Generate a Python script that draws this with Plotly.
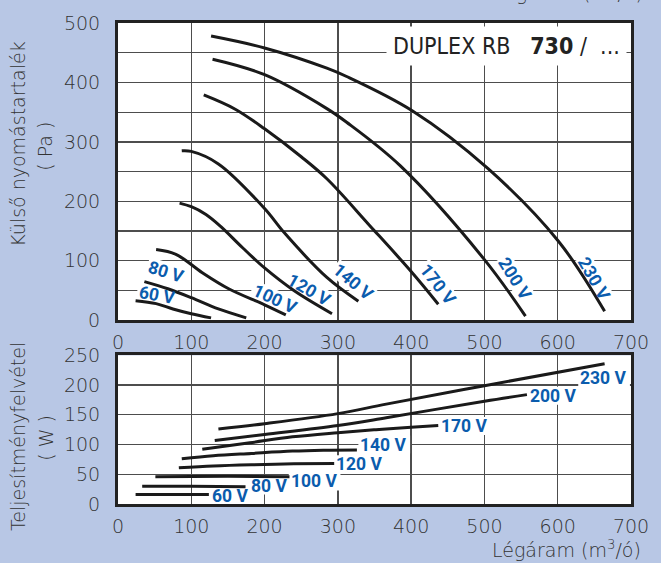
import math
import plotly.graph_objects as go

# ---------------- data ----------------
voltages = ["60 V", "80 V", "100 V", "120 V", "140 V", "170 V", "200 V", "230 V"]

# external static pressure curves (top chart): airflow m3/h -> Pa
p_flow = {
    "60 V":  [24, 52, 75, 100, 127],
    "80 V":  [36, 68, 100, 137, 175],
    "100 V": [52, 79, 115, 151, 200, 229],
    "120 V": [84, 100, 120, 140, 170, 200, 240, 292],
    "140 V": [87, 100, 137, 200, 227, 285, 328],
    "170 V": [117, 160, 200, 250, 285, 343, 400, 437],
    "200 V": [129, 200, 285, 312, 385, 500, 556],
    "230 V": [127, 200, 285, 312, 402, 505, 601, 664],
}
p_pres = {
    "60 V":  [33, 28, 19, 11, 4],
    "80 V":  [65, 53, 38, 19, 4],
    "100 V": [119, 111, 80, 53, 26, 9],
    "120 V": [197, 191, 178, 158, 122, 88, 50, 11],
    "140 V": [285, 284, 263, 188, 147, 72, 32],
    "170 V": [379, 355, 322, 275, 238, 160, 82, 27],
    "200 V": [439, 413, 356, 333, 260, 102, 7],
    "230 V": [478, 458, 424, 410, 352, 255, 133, 15],
}

# power consumption curves (bottom chart): airflow m3/h -> W
w_flow = {
    "60 V":  [24, 80, 124],
    "80 V":  [33, 100, 174],
    "100 V": [51, 150, 234],
    "120 V": [83, 130, 182, 240, 295],
    "140 V": [87, 130, 182, 238, 280, 326],
    "170 V": [115, 180, 238, 300, 352, 400, 437],
    "200 V": [132, 200, 300, 366, 500, 558],
    "230 V": [137, 200, 300, 366, 500, 664],
}
w_pow = {
    "60 V":  [16, 16, 16],
    "80 V":  [30, 30, 29],
    "100 V": [46, 46.5, 46],
    "120 V": [61, 64, 66, 67.5, 68],
    "140 V": [76, 81, 85, 89, 90.5, 91],
    "170 V": [92, 103, 113, 120, 125, 129, 132],
    "200 V": [107, 117, 132, 145, 173, 184],
    "230 V": [126, 135, 152, 168, 199, 236],
}

# label placement (data coords) and rotation for the top chart
p_lab_x = [53, 66, 214, 261, 321, 436, 542, 650]
p_lab_y = [43, 82, 36, 51, 64, 61, 70, 70]
p_lab_ang = [10, 17, 25, 30, 40, 52, 58, 60]

# label placement for bottom chart (left edge of label)
w_lab_x = [125, 179, 233, 295, 328, 438, 560, 628]
w_lab_y = [13, 31, 38, 67, 100, 131, 182, 212]

x_ticks = [0, 100, 200, 300, 400, 500, 600, 700]
p_ticks = [0, 100, 200, 300, 400, 500]
w_ticks = [0, 50, 100, 150, 200, 250]

# ---------------- style ----------------
BG = "#b8c7e5"
LINE = "#1a1a1a"
GRID = "#4d4d4d"
LBL = "#0b5cad"
TXT = "#333333"
TICKFONT = dict(family="DejaVu Sans", size=19, color=TXT, weight=300)
LBLFONT = dict(family="Roboto", size=17.5, color=LBL, weight="bold")


def label_width(t):
    digits = sum(ch.isdigit() for ch in t)
    return 9.9 * digits + 16 + 4


def rot_box_path(w, h, ang_deg):
    """white halo behind a rotated label, in pixels around the anchor"""
    a = math.radians(ang_deg)
    pts = []
    for cx, cy in [(-w / 2, -h / 2), (w / 2, -h / 2), (w / 2, h / 2), (-w / 2, h / 2)]:
        xs = cx * math.cos(a) - cy * math.sin(a)
        ys = cx * math.sin(a) + cy * math.cos(a)
        pts.append((xs, -ys))
    return "M " + " L ".join(f"{px:.2f},{py:.2f}" for px, py in pts) + " Z"


fig = go.Figure()

for v in voltages:
    fig.add_trace(go.Scatter(x=p_flow[v], y=p_pres[v], mode="lines",
                             line=dict(color=LINE, width=3, shape="spline", smoothing=1.0),
                             xaxis="x", yaxis="y", showlegend=False, hoverinfo="skip"))
for v in voltages:
    fig.add_trace(go.Scatter(x=w_flow[v], y=w_pow[v], mode="lines",
                             line=dict(color=LINE, width=3, shape="spline", smoothing=1.0),
                             xaxis="x2", yaxis="y2", showlegend=False, hoverinfo="skip"))

ann = []
shapes = []
for v, x, y, a in zip(voltages, p_lab_x, p_lab_y, p_lab_ang):
    ann.append(dict(x=x, y=y, xref="x", yref="y", text=v, showarrow=False,
                    textangle=a, font=LBLFONT))
    shapes.append(dict(type="path", xref="x", yref="y", xsizemode="pixel", ysizemode="pixel",
                       xanchor=x, yanchor=y, path=rot_box_path(label_width(v), 18, a),
                       fillcolor="white", line=dict(width=0), layer="between"))
for v, x, y in zip(voltages, w_lab_x, w_lab_y):
    ann.append(dict(x=x, y=y, xref="x2", yref="y2", text=v, showarrow=False,
                    xanchor="left", font=LBLFONT))
    w = label_width(v)
    shapes.append(dict(type="rect", xref="x2", yref="y2", xsizemode="pixel", ysizemode="pixel",
                       xanchor=x, yanchor=y, x0=0, x1=w + 2, y0=-9, y1=9,
                       fillcolor="white", line=dict(width=0), layer="between"))

# model name box
NB = "\u00a0"
ann.append(dict(x=530, y=461, xref="x", yref="y",
                text=f"DUPLEX RB{NB}{NB}{NB}<b>730</b>{NB}/{NB}{NB}...",
                showarrow=False,
                font=dict(family="DejaVu Sans Condensed, Liberation Sans Narrow, DejaVu Sans",
                          size=23, color="#222222"),
                bgcolor="white", borderpad=6))

# axis titles
TITLEFONT = dict(family="DejaVu Sans", size=19, color=TXT, weight=300)
ann += [
    dict(x=-0.195, y=0.749, xref="paper", yref="paper", text="Külső nyomástartalék",
         xanchor="center", yanchor="middle",
         textangle=-90, showarrow=False, font=TITLEFONT),
    dict(x=-0.144, y=0.743, xref="paper", yref="paper", text="( Pa )",
         xanchor="center", yanchor="middle",
         textangle=-90, showarrow=False, font=TITLEFONT),
    dict(x=-0.196, y=0.140, xref="paper", yref="paper", text="Teljesítményfelvétel",
         xanchor="center", yanchor="middle",
         textangle=-90, showarrow=False, font=TITLEFONT),
    dict(x=-0.142, y=0.138, xref="paper", yref="paper", text="( W )",
         xanchor="center", yanchor="middle",
         textangle=-90, showarrow=False, font=TITLEFONT),
    dict(x=1.0, y=0, xref="paper", yref="paper", text="Légáram (m<sup>3</sup>/ó)",
         xanchor="right", yanchor="top", yshift=-31, xshift=12,
         showarrow=False, font=TITLEFONT),
    dict(x=1.0, y=1, xref="paper", yref="paper", text="Légáram (m<sup>3</sup>/ó)",
         xanchor="right", yanchor="bottom", yshift=17, xshift=14,
         showarrow=False, font=TITLEFONT),
]

axis_common = dict(showline=True, mirror=True, linewidth=3, linecolor="#222222",
                   showgrid=True, gridcolor=GRID, gridwidth=1.3, zeroline=False,
                   ticks="", ticklen=0, tickfont=TICKFONT, fixedrange=True)

fig.update_layout(
    width=661, height=563,
    paper_bgcolor=BG, plot_bgcolor="white",
    margin=dict(l=118, r=22, t=18, b=59),
    showlegend=False,
    annotations=ann,
    shapes=shapes,
    xaxis=dict(domain=[0, 1], anchor="y", range=[0, 700], tickvals=x_ticks,
               ticklabelstandoff=3, **axis_common),
    yaxis=dict(domain=[0.382, 1], anchor="x", range=[0, 500], tickvals=p_ticks,
               minor=dict(dtick=50, showgrid=True, gridcolor=GRID, gridwidth=1.3),
               ticklabelstandoff=11, **axis_common),
    xaxis2=dict(domain=[0, 1], anchor="y2", range=[0, 700], tickvals=x_ticks,
                ticklabelstandoff=3, **axis_common),
    yaxis2=dict(domain=[0, 0.309], anchor="x2", range=[0, 250], tickvals=w_ticks,
                ticklabelstandoff=11, **axis_common),
)

fig.write_html(
    "out.html",
    config={"displayModeBar": False, "staticPlot": True},
    post_script="document.body.style.margin='0px';"
                "document.body.style.background='" + BG + "';"
                "document.body.style.overflow='hidden';",
)
